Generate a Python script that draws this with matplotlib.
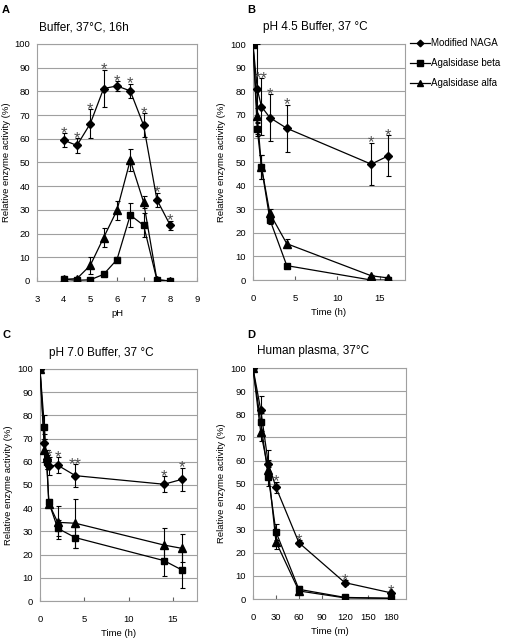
import matplotlib
matplotlib.use('Agg')
import matplotlib.pyplot as plt

plt.rcParams['font.family'] = ['Liberation Sans', 'DejaVu Sans']

# ---- panel A : pH profile, 16h at 37C
ph = [4, 4.5, 5, 5.5, 6, 6.5, 7, 7.5, 8]
a_naga = [59.4, 57.2, 66.4, 81.2, 82.3, 80.2, 65.7, 34.3, 23.5]
a_naga_err = [3, 3, 6, 8, 2, 3, 5, 3, 2]
a_beta = [0.7, 0.3, 0.5, 2.8, 9, 27.8, 23.5, 0.5, 0]
a_beta_err = [0.3, 0.3, 0.3, 0.5, 1, 5, 5, 0.3, 0]
a_alfa = [0.7, 1, 6.6, 18.3, 29.8, 51, 33.3, 0.5, 0]
a_alfa_err = [0.5, 0.5, 3.5, 4, 4, 4.5, 2.5, 0.5, 0]
a_stars = ['*'] * 9

# ---- panel B : pH 4.5 buffer
b_time = [0, 0.5, 1, 2, 4, 14, 16]
b_naga = [100, 81, 73.5, 68.8, 64.3, 49.1, 52.6]
b_naga_err = [0, 19, 12, 10, 10, 9, 8.7]
b_beta = [100, 64, 48, 25.6, 6.1, 0, 0]
b_beta_err = [0, 3, 5, 2, 0.5, 0.3, 0.3]
b_alfa = [100, 69.7, 48, 28.2, 15.4, 1.8, 0.9]
b_alfa_err = [0, 3, 5, 2, 1.8, 0.5, 0.5]
b_stars = ['', '', '**', '*', '*', '*', '*']

# ---- panel C : pH 7.0 buffer
c_time = [0, 0.5, 0.75, 1, 2, 4, 14, 16]
c_naga = [100, 68, 61, 58.2, 58.5, 54, 50.3, 52.4]
c_naga_err = [0, 4, 4, 4, 3.5, 5, 3.5, 5]
c_beta = [100, 75, 60, 42.5, 31.3, 27.3, 17.4, 13.4]
c_beta_err = [0, 5, 3, 1.5, 3.5, 4.6, 6.6, 8]
c_alfa = [100, 65, 62, 42, 33.9, 33.5, 24.1, 22.7]
c_alfa_err = [0, 5, 3, 1.5, 7, 10.6, 7.5, 6]
c_stars = ['', '', '', '*', '*', '**', '*', '*']

# ---- panel D : human plasma (minutes)
d_time = [0, 10, 20, 30, 60, 120, 180]
d_naga = [100, 82.1, 58.7, 48.4, 24.4, 7.1, 2.7]
d_naga_err = [0, 6, 6, 2.5, 1, 1, 0.5]
d_beta = [100, 76.8, 53, 29.1, 4.2, 0.7, 0.3]
d_beta_err = [0, 4, 4, 3.5, 1.5, 0.3, 0.2]
d_alfa = [100, 72.4, 56.1, 24.8, 3.5, 0.5, 0.3]
d_alfa_err = [0, 4, 4, 3, 1.5, 0.3, 0.2]
d_stars = ['', '', '', '*', '*', '*', '*']

labels = ['Modified NAGA', 'Agalsidase beta', 'Agalsidase alfa']
markers = [('D', 4.2), ('s', 4.8), ('^', 5.5)]
GRID = '#a0a0a0'
STAR = '#505050'


def draw_panel(ax, x, series, errs, stars, xlim, xticks, xlabel, title, tx, ty):
    for (y, e, (m, ms), lab) in zip(series, errs, markers, labels):
        ax.errorbar(x, y, yerr=e, fmt='-', marker=m, ms=ms, color='black',
                    lw=0.9, elinewidth=0.8, capsize=1.8, capthick=0.8,
                    label=lab, zorder=3)
    # significance marks above modified NAGA error bars
    for xi, yi, ei, s in zip(x, series[0], errs[0], stars):
        if s:
            ax.annotate(s, (xi, yi + ei), xytext=(0, -5.5), textcoords='offset points',
                        ha='center', va='bottom', fontsize=12, color=STAR)
    ax.set_xlim(*xlim)
    ax.set_ylim(0, 100)
    ax.set_xticks(xticks)
    ax.set_yticks(range(0, 101, 10))
    ax.yaxis.grid(True, color=GRID, lw=0.8)
    ax.set_axisbelow(True)
    for sp in ax.spines.values():
        sp.set_color(GRID)
        sp.set_linewidth(0.8)
    ax.tick_params(axis='x', direction='in', length=3, color='#606060', pad=10, labelsize=6.8)
    ax.tick_params(axis='y', length=0, pad=5, labelsize=6.8)
    ax.set_xlabel(xlabel, fontsize=6.8, labelpad=4)
    ax.set_ylabel('Relative enzyme activity (%)', fontsize=6.8, labelpad=3)
    ax.text(tx, ty, title, transform=ax.transAxes, ha='left', va='center', fontsize=8.5)


fig = plt.figure(figsize=(5.06, 6.43), dpi=100)
axA = fig.add_axes([0.0731, 0.563, 0.316, 0.3686])
axB = fig.add_axes([0.500, 0.5645, 0.3004, 0.367])
axC = fig.add_axes([0.079, 0.0653, 0.310, 0.361])
axD = fig.add_axes([0.500, 0.0684, 0.3024, 0.359])

draw_panel(axA, ph, [a_naga, a_beta, a_alfa], [a_naga_err, a_beta_err, a_alfa_err],
           a_stars, (3, 9), range(3, 10), 'pH', 'Buffer, 37°C, 16h', 0.012, 1.068)
draw_panel(axB, b_time, [b_naga, b_beta, b_alfa], [b_naga_err, b_beta_err, b_alfa_err],
           b_stars, (0, 18), [0, 5, 10, 15], 'Time (h)', 'pH 4.5 Buffer, 37 °C', 0.066, 1.073)
draw_panel(axC, c_time, [c_naga, c_beta, c_alfa], [c_naga_err, c_beta_err, c_alfa_err],
           c_stars, (0, 17.7), [0, 5, 10, 15], 'Time (h)', 'pH 7.0 Buffer, 37 °C', 0.057, 1.068)
draw_panel(axD, d_time, [d_naga, d_beta, d_alfa], [d_naga_err, d_beta_err, d_alfa_err],
           d_stars, (0, 200), range(0, 181, 30), 'Time (m)', 'Human plasma, 37°C', 0.026, 1.075)
# keep the left-hand labels inside the figure
axA.yaxis.set_label_coords(-0.16, 0.5)
axC.yaxis.set_label_coords(-0.17, 0.5)

# legend: plain line+marker handles (no error bars)
leg_lines = []
for (m, ms) in markers:
    ln, = axB.plot([], [], '-', marker=m, ms=ms * 0.8, color='black', lw=0.9)
    leg_lines.append(ln)
axB.legend(leg_lines, labels, loc='upper left', bbox_to_anchor=(1.01, 1.04),
           frameon=False, fontsize=7, handlelength=2.0, handletextpad=0.15,
           labelspacing=1.0, borderaxespad=0)

for letter, (lx, ly) in zip('ABCD', [(0.004, 0.992), (0.488, 0.992), (0.004, 0.487), (0.488, 0.487)]):
    fig.text(lx, ly, letter, fontsize=8, fontweight='bold', ha='left', va='top')

fig.savefig('out.png', dpi=100)
